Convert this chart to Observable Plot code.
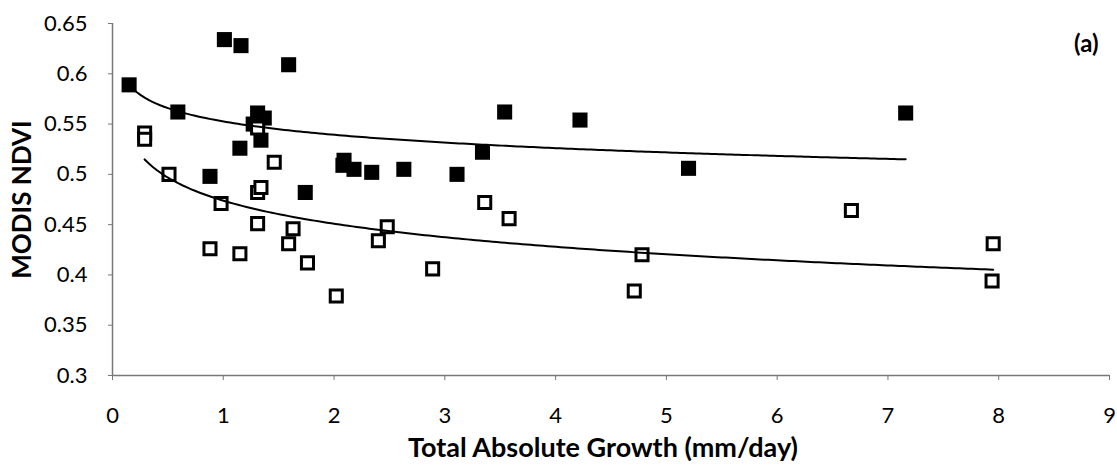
<!DOCTYPE html>
<html><head><meta charset="utf-8">
<script src="https://cdn.jsdelivr.net/npm/d3@7"></script>
<script src="https://cdn.jsdelivr.net/npm/@observablehq/plot@0.6"></script>
<style>body{margin:0;background:#fff} #chart svg{display:block}</style>
</head><body><div id="chart"></div>
<script>
// Filled squares series
const filledX = [0.15, 1.01, 1.16, 1.59, 0.59, 1.31, 1.37, 1.27, 1.34, 1.15, 0.88, 1.74, 2.09, 2.08, 2.18, 2.34, 2.63, 3.11, 3.34, 3.54, 4.22, 5.20, 7.16];
const filledY = [0.589, 0.634, 0.628, 0.609, 0.562, 0.561, 0.556, 0.550, 0.534, 0.526, 0.498, 0.482, 0.514, 0.509, 0.505, 0.502, 0.505, 0.500, 0.522, 0.562, 0.554, 0.506, 0.561];
// Open squares series
const openX = [0.29, 0.29, 0.51, 0.98, 0.88, 1.15, 1.31, 1.31, 1.34, 1.46, 1.31, 1.63, 1.59, 1.76, 2.02, 2.48, 2.40, 2.89, 3.36, 3.58, 4.78, 4.71, 6.67, 7.95, 7.94];
const openY = [0.541, 0.535, 0.500, 0.471, 0.426, 0.421, 0.546, 0.482, 0.487, 0.512, 0.451, 0.446, 0.431, 0.412, 0.379, 0.448, 0.434, 0.406, 0.472, 0.456, 0.420, 0.384, 0.464, 0.431, 0.394];
const xTicks = [0, 1, 2, 3, 4, 5, 6, 7, 8, 9];
const yTicks = [0.3, 0.35, 0.4, 0.45, 0.5, 0.55, 0.6, 0.65];
const xLabel = "Total Absolute Growth (mm/day)";
const yLabel = "MODIS NDVI";
const panelLabel = "(a)";

const filled = filledX.map((x, i) => ({x, y: filledY[i]}));
const open = openX.map((x, i) => ({x, y: openY[i]}));

// Logarithmic trend line (least squares on ln x), like a spreadsheet log trendline
function logTrend(data) {
  const lx = data.map(d => Math.log(d.x)), ys = data.map(d => d.y);
  const mx = d3.mean(lx), my = d3.mean(ys);
  const b = d3.sum(lx, (v, i) => (v - mx) * (ys[i] - my)) / d3.sum(lx, v => (v - mx) ** 2);
  const a = my - b * mx;
  const [x0, x1] = d3.extent(data, d => d.x);
  return d3.range(201).map(i => { const x = x0 + (x1 - x0) * i / 200; return {x, y: a + b * Math.log(x)}; });
}

const chart = Plot.plot({
  width: 1117, height: 469,
  marginLeft: 112, marginRight: 8, marginTop: 23, marginBottom: 94,
  style: {fontFamily: "Lato", fontSize: "22px", color: "#000", background: "#fff"},
  x: {domain: [0, 9]},
  y: {domain: [0.3, 0.65]},
  marks: [
    Plot.ruleX([0], {stroke: "#777", strokeWidth: 1.5}),
    Plot.ruleY([0.3], {stroke: "#777", strokeWidth: 1.5}),
    Plot.axisX(xTicks, {tickSize: 5, tickPadding: 27, label: null, stroke: "#777"}),
    Plot.axisY(yTicks, {tickSize: 4, tickPadding: 21, label: null, stroke: "#777", tickFormat: d => String(d)}),
    Plot.dot(filled, {x: "x", y: "y", symbol: "square", r: 8.5, fill: "#000"}),
    Plot.dot(open, {x: "x", y: "y", symbol: "square", r: 6.8, fill: "#fff", stroke: "#000", strokeWidth: 3}),
    Plot.line(logTrend(filled), {x: "x", y: "y", stroke: "#000", strokeWidth: 2}),
    Plot.line(logTrend(open), {x: "x", y: "y", stroke: "#000", strokeWidth: 2}),
    Plot.text([xLabel], {frameAnchor: "bottom", lineAnchor: "middle", textAnchor: "middle", dx: -8, dy: 73, fontWeight: "bold", fontSize: 27}),
    Plot.text([yLabel], {frameAnchor: "left", lineAnchor: "middle", textAnchor: "middle", dx: -90, rotate: -90, fontWeight: "bold", fontSize: 26}),
    Plot.text([panelLabel], {frameAnchor: "top-right", lineAnchor: "middle", textAnchor: "end", dx: -11, dy: 21, fontWeight: "bold", fontSize: 24})
  ]
});
document.getElementById("chart").append(chart);
</script>
</body></html>
